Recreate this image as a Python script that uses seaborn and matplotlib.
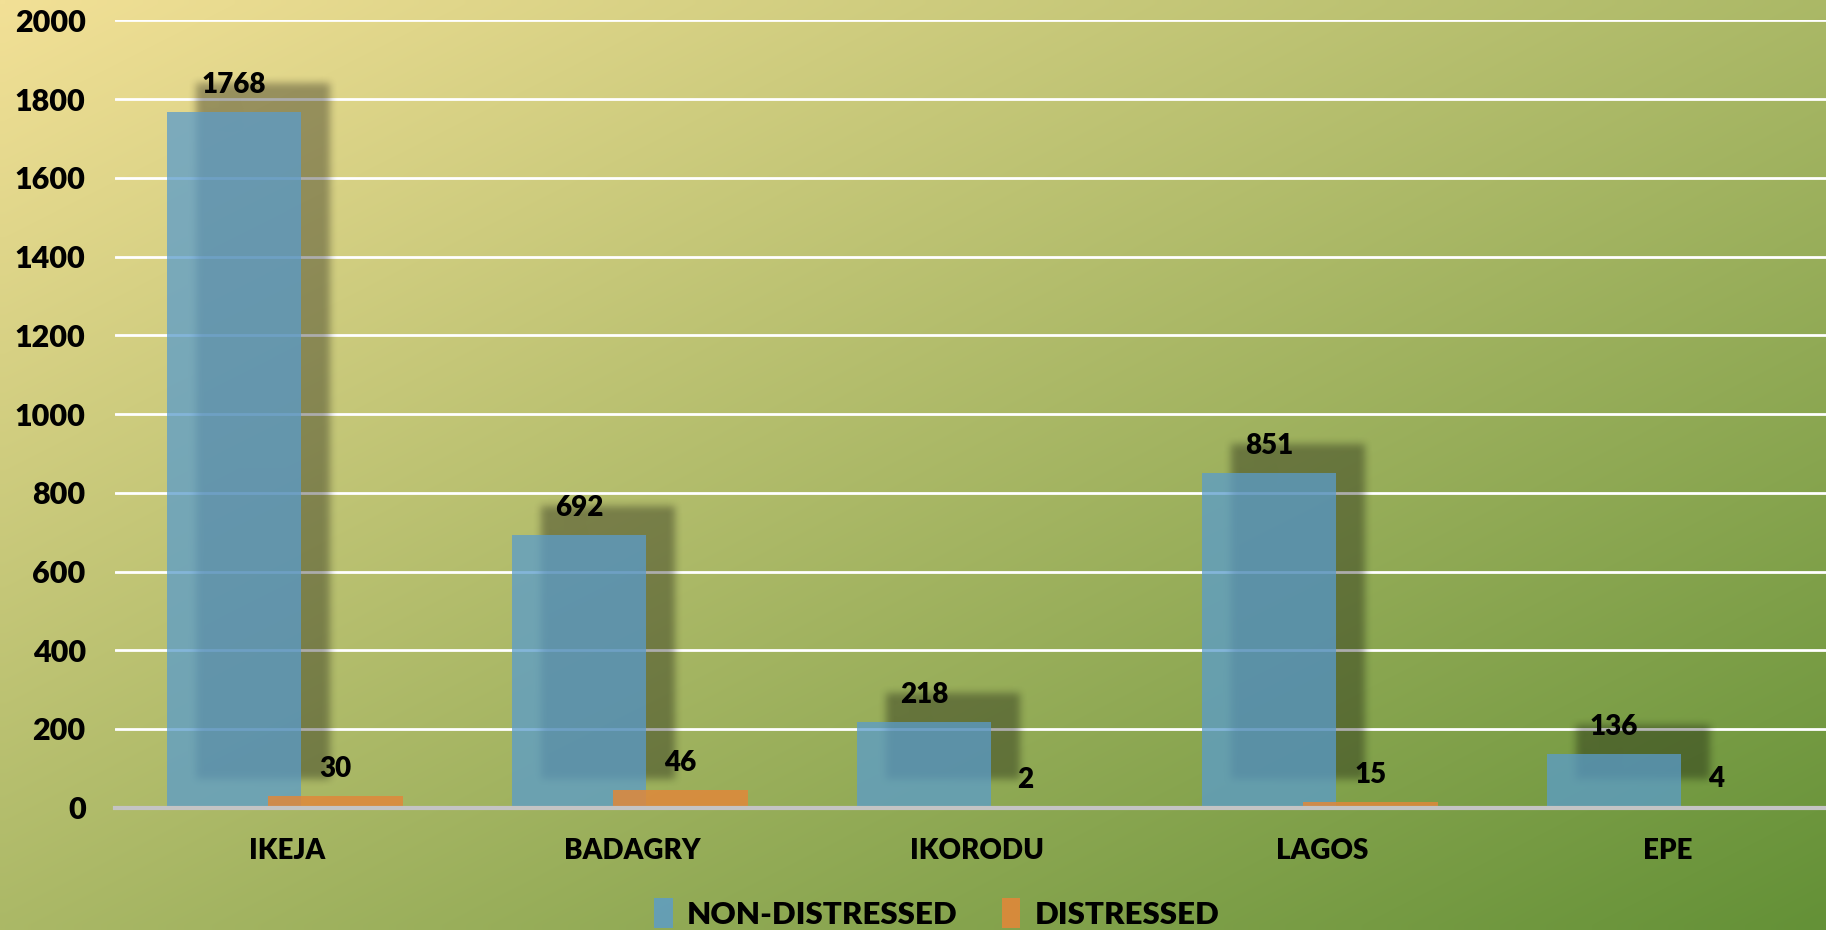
import numpy as np
import pandas as pd
import matplotlib
matplotlib.use("Agg")
import matplotlib.pyplot as plt
import matplotlib.transforms as mtransforms
from matplotlib.patches import Rectangle, Patch
import seaborn as sns

# data
districts = ["IKEJA", "BADAGRY", "IKORODU", "LAGOS", "EPE"]
non_distressed = [1768, 692, 218, 851, 136]
distressed = [30, 46, 2, 15, 4]
statuses = ["NON-DISTRESSED", "DISTRESSED"]
y_ticks = list(range(0, 2001, 200))

BLUE = "#5A9CCC"
ORANGE = "#E0883A"
WEIGHT = "heavy"


def box_blur(a, r):
    # simple separable box blur on an (H, W, 4) array
    for axis in (0, 1):
        n = a.shape[axis]
        c = np.cumsum(a, axis=axis)
        zero = np.zeros_like(np.take(c, [0], axis=axis))
        c = np.concatenate([zero, c], axis=axis)
        hi = np.clip(np.arange(n) + r + 1, 0, n)
        lo = np.clip(np.arange(n) - r, 0, n)
        a = (np.take(c, hi, axis=axis) - np.take(c, lo, axis=axis)) / (2 * r + 1)
    return a


def shadow_filter(im, dpi):
    pad = 14
    a = np.pad(im, ((pad, pad), (pad, pad), (0, 0)))
    a = box_blur(a, 4)
    a = box_blur(a, 4)
    return a, -pad, -pad


df = pd.DataFrame({
    "district": districts * 2,
    "count": non_distressed + distressed,
    "status": [statuses[0]] * len(districts) + [statuses[1]] * len(districts),
})

sns.set_theme(style="white")
plt.rcParams["font.family"] = ["Lato", "DejaVu Sans"]
plt.rcParams["font.weight"] = WEIGHT
plt.rcParams["text.color"] = "black"

fig = plt.figure(figsize=(18.26, 9.30), dpi=100)

# diagonal gradient background (yellow top-left -> green bottom-right)
bg = fig.add_axes([0, 0, 1, 1], zorder=-10)
bg.set_axis_off()
H, W = 93, 183
yy, xx = np.mgrid[0:H, 0:W]
t = (xx / (W - 1) + yy / (H - 1)) / 2
c0 = np.array([242, 224, 150]) / 255
c1 = np.array([100, 145, 55]) / 255
grad = c0[None, None, :] * (1 - t[..., None]) + c1[None, None, :] * t[..., None]
bg.imshow(grad, extent=[0, 1, 0, 1], aspect="auto", interpolation="bilinear")
bg.set_xlim(0, 1)
bg.set_ylim(0, 1)

# plot area runs a little past the right edge of the figure
ax = fig.add_axes([0.0629, 0.1315, 0.9447, 0.8465])
ax.patch.set_visible(False)

sns.barplot(data=df, x="district", y="count", hue="status",
            palette=[BLUE, ORANGE], width=0.6, dodge=True,
            saturation=1, legend=False, ax=ax)

blue_bars, orange_bars = ax.containers[0], ax.containers[1]
for bars, alpha, z, shift in ((blue_bars, 0.75, 2, -0.05), (orange_bars, 0.85, 3, -0.055)):
    for p in bars:
        p.set_x(p.get_x() + shift)
        p.set_width(0.39)
        p.set_alpha(alpha)
        p.set_zorder(z)
        p.set_edgecolor("none")

# soft shadow behind the non-distressed bars, offset up and right
offset = ax.transData + mtransforms.ScaledTranslation(0.29, 0.29, fig.dpi_scale_trans)
for p in blue_bars:
    sh = Rectangle((p.get_x(), 0), p.get_width(), p.get_height(),
                   facecolor="black", alpha=0.33, edgecolor="none",
                   transform=offset, zorder=1.5)
    sh.set_agg_filter(shadow_filter)
    ax.add_patch(sh)

ax.bar_label(blue_bars, fmt="%d", padding=10, fontsize=20, fontweight=WEIGHT, color="black")
ax.bar_label(orange_bars, fmt="%d", padding=10, fontsize=20, fontweight=WEIGHT, color="black")

ax.set_xlim(-0.5, 4.5)
ax.set_ylim(0, 2000)
ax.set_yticks(y_ticks)
ax.yaxis.grid(True, color="white", linewidth=2, zorder=0.5)
ax.set_axisbelow(True)
for s in ("top", "right", "left"):
    ax.spines[s].set_visible(False)
ax.spines["bottom"].set_color("#C4C4C4")
ax.spines["bottom"].set_linewidth(3)
ax.spines["bottom"].set_zorder(4)
ax.tick_params(axis="y", length=0, pad=21, labelsize=22, labelcolor="black")
ax.tick_params(axis="x", length=0, pad=22, labelsize=20, labelcolor="black")
for lab in ax.get_xticklabels() + ax.get_yticklabels():
    lab.set_fontweight(WEIGHT)
ax.set_xlabel("")
ax.set_ylabel("")

handles = [Patch(facecolor=BLUE, alpha=0.8, edgecolor="none"),
           Patch(facecolor=ORANGE, alpha=0.9, edgecolor="none")]
leg = fig.legend(handles, statuses, loc="center", bbox_to_anchor=(0.513, 0.018),
                 ncol=2, frameon=False, handlelength=0.6, handleheight=1.1,
                 handletextpad=0.45, columnspacing=1.4,
                 prop={"size": 22.5, "weight": WEIGHT})
for txt in leg.get_texts():
    txt.set_color("black")

fig.savefig("out.png", dpi=100)
